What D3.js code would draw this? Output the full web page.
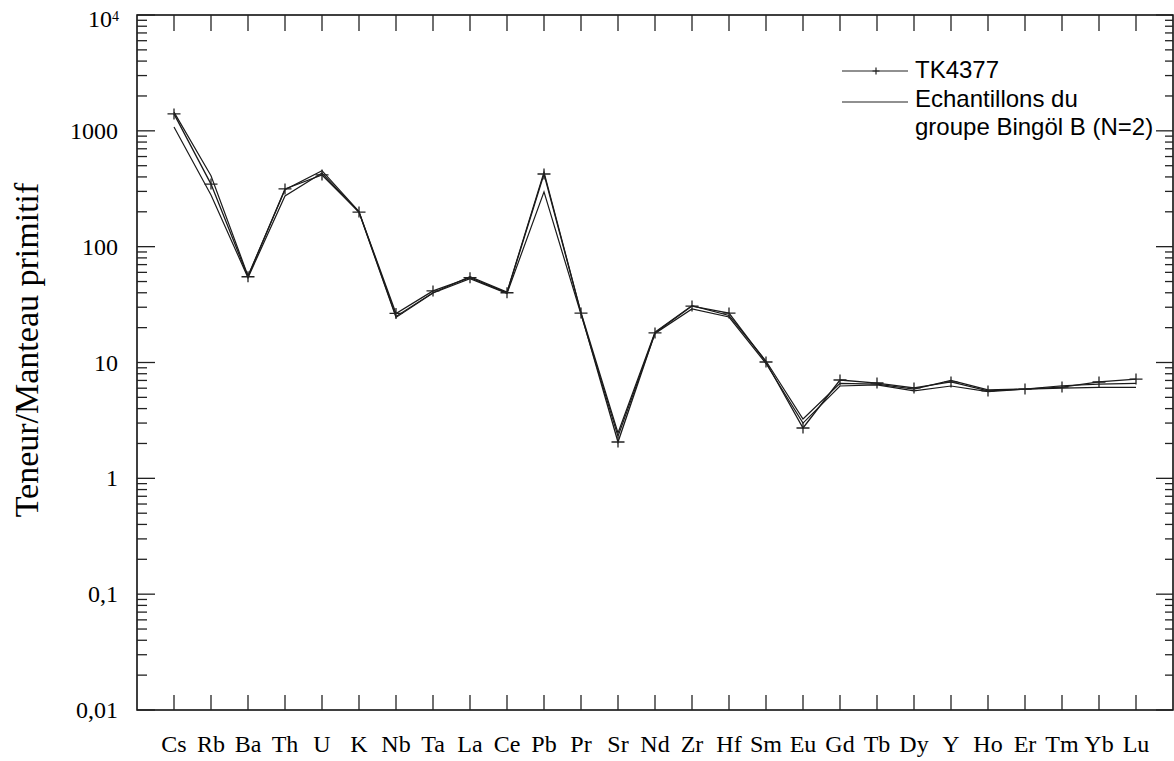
<!DOCTYPE html>
<html>
<head>
<meta charset="utf-8">
<script src="https://cdn.jsdelivr.net/npm/d3@7/dist/d3.min.js"></script>
<style>
  html, body { margin: 0; padding: 0; background: #fff; }
  svg { display: block; }
</style>
</head>
<body>
<svg id="chart" width="1174" height="761"></svg>
<script>
// ---- data ----
const elements = ["Cs","Rb","Ba","Th","U","K","Nb","Ta","La","Ce","Pb","Pr","Sr","Nd","Zr","Hf","Sm","Eu","Gd","Tb","Dy","Y","Ho","Er","Tm","Yb","Lu"];
const tk4377   = [1400, 347, 55, 315, 416, 199, 26.5, 41.5, 54, 40, 424, 26.7, 2.06, 18, 30.7, 26.7, 10.1, 2.72, 7.06, 6.65, 6.03, 6.79, 5.68, 5.9, 6.13, 6.79, 7.2];
const bingolB1 = [1450, 410, 56, 310, 453, 201, 25, 40, 55, 40.5, 440, 27, 2.46, 18.3, 31, 25.5, 10.3, 3.25, 6.6, 6.5, 5.9, 7.0, 5.8, 5.9, 6.3, 6.5, 6.6];
const bingolB2 = [1080, 279, 54, 274, 432, 198, 24.5, 39.8, 53, 39.5, 297, 26, 2.3, 17.8, 29, 24.7, 9.8, 3.0, 6.27, 6.4, 5.68, 6.27, 5.6, 5.9, 6.0, 6.1, 6.1];
const majorTicks = [0.01, 0.1, 1, 10, 100, 1000, 10000];
const majorLabels = ["0,01", "0,1", "1", "10", "100", "1000", "10^4"];
const yTitle = "Teneur/Manteau primitif";
const legendLabels = ["TK4377", "Echantillons du", "groupe Bingöl B (N=2)"];

// ---- layout ----
const L = 137, R = 1173, T = 15, B = 710;
const svg = d3.select("#chart");
const x = d3.scalePoint().domain(elements).range([L, R]).padding(1);
const y = d3.scaleLog().domain([0.01, 10000]).range([B, T]);

const minorTicks = [];
for (let e = -2; e < 4; e++) for (let m = 2; m <= 9; m++) minorTicks.push(m * Math.pow(10, e));

const serif = "'Liberation Serif', 'Times New Roman', serif";
const sans = "'Liberation Sans', Arial, sans-serif";

// y tick labels
const ylab = svg.append("g").attr("font-family", serif).attr("font-size", 24).attr("fill", "#000")
  .attr("text-anchor", "end");
majorTicks.forEach((v, i) => {
  const t = ylab.append("text").attr("x", 118).attr("y", y(v) + 8);
  if (majorLabels[i] === "10^4") {
    t.attr("x", 119).attr("y", y(v) + 12);
    t.append("tspan").text("10");
    t.append("tspan").attr("font-size", 14).attr("dy", -6).text("4");
  } else {
    t.text(majorLabels[i]);
  }
});

// x tick labels
svg.append("g").selectAll("text").data(elements).join("text")
  .attr("x", d => x(d)).attr("y", 752).attr("text-anchor", "middle")
  .attr("font-family", serif).attr("font-size", 24).attr("fill", "#000").text(d => d);

// frame
svg.append("rect").attr("x", L).attr("y", T).attr("width", R - L).attr("height", B - T)
  .attr("fill", "none").attr("stroke", "#000").attr("stroke-width", 1.5);

// tick marks, one small path each (inward)
const tickSpecs = [];
majorTicks.forEach(v => {
  tickSpecs.push({ x0: L, y0: y(v), x1: L + 18, y1: y(v) });
  tickSpecs.push({ x0: R - 17, y0: y(v), x1: R, y1: y(v) });
});
minorTicks.forEach(v => {
  tickSpecs.push({ x0: L, y0: y(v), x1: L + 10, y1: y(v) });
  tickSpecs.push({ x0: R - 8, y0: y(v), x1: R, y1: y(v) });
});
elements.forEach(c => {
  tickSpecs.push({ x0: x(c), y0: T, x1: x(c), y1: T + 16 });
  tickSpecs.push({ x0: x(c), y0: B - 15, x1: x(c), y1: B });
});
svg.append("g").attr("class", "tickmarks").selectAll("path").data(tickSpecs).join("path")
  .attr("d", d => `M${d.x0},${d.y0}L${d.x1},${d.y1}`)
  .attr("stroke", "#222").attr("stroke-width", 1.3).attr("fill", "none");

// y title
svg.append("text").attr("transform", `translate(38,350) rotate(-90)`)
  .attr("text-anchor", "middle").attr("font-family", serif).attr("font-size", 34)
  .attr("fill", "#000").text(yTitle);

// lines
const line = d3.line().x((d, i) => x(elements[i])).y(d => y(d));
[bingolB1, bingolB2].forEach(s => {
  svg.append("path").datum(s).attr("d", line).attr("fill", "none")
    .attr("stroke", "#1a1a1a").attr("stroke-width", 1.2);
});
svg.append("path").datum(tk4377).attr("d", line).attr("fill", "none")
  .attr("stroke", "#1a1a1a").attr("stroke-width", 1.3);

// cross markers
const cross = (cx, cy, hw, hh) => `M${cx - hw},${cy}H${cx + hw}M${cx},${cy - hh}V${cy + hh}`;
svg.append("g").selectAll("path").data(tk4377).join("path")
  .attr("d", (d, i) => cross(x(elements[i]), y(d), 6.5, 5.5))
  .attr("stroke", "#222").attr("stroke-width", 1.3).attr("fill", "none");

// legend
const lg = svg.append("g");
lg.append("line").attr("x1", 842).attr("x2", 908).attr("y1", 71).attr("y2", 71).attr("stroke", "#222").attr("stroke-width", 1.2);
lg.append("path").attr("d", cross(876, 71, 3.5, 3.5)).attr("stroke", "#222").attr("stroke-width", 1.2);
lg.append("line").attr("x1", 842).attr("x2", 908).attr("y1", 102).attr("y2", 102).attr("stroke", "#222").attr("stroke-width", 1.2);
[78, 107, 135].forEach((by, i) => {
  lg.append("text").attr("x", 915).attr("y", by).attr("font-family", sans).attr("font-size", 24)
    .attr("fill", "#000").text(legendLabels[i]);
});
</script>
</body>
</html>
